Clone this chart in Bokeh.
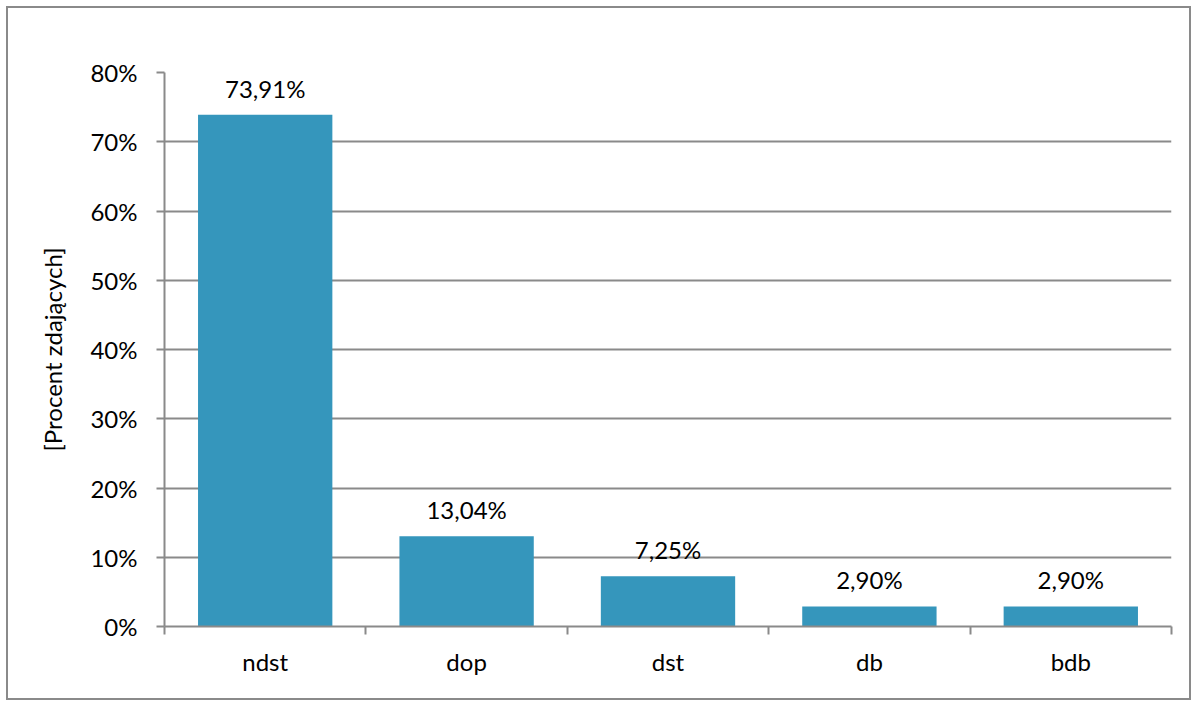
from bokeh.plotting import figure
from bokeh.models import ColumnDataSource, FixedTicker, Range1d
from bokeh.core.properties import value
from bokeh.embed import file_html
from bokeh.resources import INLINE

categories = ["ndst", "dop", "dst", "db", "bdb"]
percent = [73.91, 13.04, 7.25, 2.90, 2.90]
y_ticks = [0, 10, 20, 30, 40, 50, 60, 70, 80]
y_tick_labels = ["0%", "10%", "20%", "30%", "40%", "50%", "60%", "70%", "80%"]
bar_labels = ["73,91%", "13,04%", "7,25%", "2,90%", "2,90%"]

FONT = "Lato"
GRAY = "#8a8a8a"
BAR = "#3596bc"
FS = "24px"

centers = [i + 0.5 for i in range(len(categories))]
src = ColumnDataSource(dict(x=centers, top=percent, lab=bar_labels))

p = figure(width=1185, height=694, output_backend="svg", toolbar_location=None,
           x_range=Range1d(0, len(categories)), y_range=Range1d(0, 80),
           min_border_left=156, min_border_right=22, min_border_top=64, min_border_bottom=76)
p.styles = {"border": "2px solid #8a8a8a", "margin-left": "6px", "margin-top": "6px"}
p.outline_line_color = None

p.vbar(x="x", top="top", width=0.667, source=src, fill_color=BAR, line_color=None)
p.text(x="x", y="top", text="lab", source=src, text_align="center", text_baseline="bottom",
       y_offset=-12, text_font=value(FONT), text_font_size=FS, text_color="#000000")

# y axis
p.yaxis.ticker = FixedTicker(ticks=y_ticks)
p.yaxis.major_label_overrides = {t: l for t, l in zip(y_ticks, y_tick_labels)}
p.yaxis.axis_line_color = GRAY
p.yaxis.axis_line_width = 2
p.yaxis.major_tick_line_color = GRAY
p.yaxis.major_tick_line_width = 2
p.yaxis.major_tick_out = 8
p.yaxis.major_tick_in = 0
p.yaxis.minor_tick_line_color = None
p.yaxis.major_label_text_font = FONT
p.yaxis.major_label_text_font_size = FS
p.yaxis.major_label_text_color = "#000000"
p.yaxis.major_label_standoff = 19
p.yaxis.axis_label = "[Procent zdających]"
p.yaxis.axis_label_text_font = FONT
p.yaxis.axis_label_text_font_size = FS
p.yaxis.axis_label_text_font_style = "normal"
p.yaxis.axis_label_text_color = "#000000"
p.yaxis.axis_label_standoff = 20

# x axis: labels at centers, tick marks at category boundaries
p.xaxis.ticker = FixedTicker(ticks=centers, minor_ticks=list(range(len(categories) + 1)))
p.xaxis.major_label_overrides = {c: n for c, n in zip(centers, categories)}
p.xaxis.axis_line_color = GRAY
p.xaxis.axis_line_width = 2
p.xaxis.major_tick_line_color = None
p.xaxis.minor_tick_line_color = GRAY
p.xaxis.minor_tick_line_width = 2
p.xaxis.minor_tick_out = 8
p.xaxis.minor_tick_in = 0
p.xaxis.major_label_text_font = FONT
p.xaxis.major_label_text_font_size = FS
p.xaxis.major_label_text_color = "#000000"
p.xaxis.major_label_standoff = 12

p.xgrid.grid_line_color = None
p.ygrid.ticker = FixedTicker(ticks=y_ticks)
p.ygrid.grid_line_color = GRAY
p.ygrid.grid_line_width = 2

open("out.html", "w").write(file_html(p, INLINE))
